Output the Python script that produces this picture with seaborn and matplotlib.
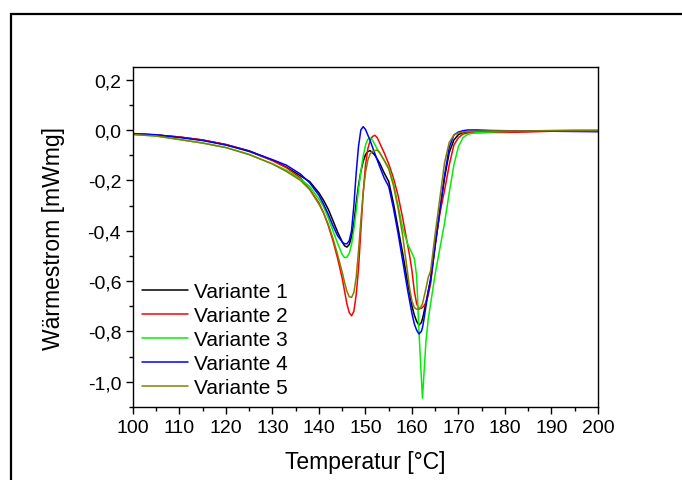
import numpy as np
import pandas as pd
import seaborn as sns
import matplotlib.pyplot as plt
from matplotlib.patches import Rectangle
from matplotlib.ticker import MultipleLocator, FuncFormatter

# DSC curves
temperatur = [100, 105, 110, 115, 120, 125, 130, 133, 136, 138, 140, 141, 142, 143, 144,
              145, 145.5, 146, 146.5, 147, 147.5, 148, 148.5, 149, 149.5, 150, 150.5,
              151, 151.5, 152, 152.5, 153, 154, 155, 156, 157, 158, 159, 159.5, 160,
              160.5, 161, 161.5, 162, 162.25, 162.5, 163, 163.5, 164, 165, 166, 167,
              168, 169, 170, 171, 172, 174, 177, 180, 185, 190, 195, 200]

variante_1 = [-0.015, -0.020, -0.028, -0.040, -0.058, -0.083, -0.120, -0.148, -0.182, -0.205,
              -0.250, -0.280, -0.315, -0.360, -0.405, -0.445, -0.460, -0.465, -0.455, -0.425,
              -0.370, -0.290, -0.220, -0.165, -0.125, -0.098, -0.086, -0.082, -0.090, -0.100,
              -0.115, -0.130, -0.170, -0.205, -0.290, -0.390, -0.490, -0.600, -0.650, -0.700,
              -0.735, -0.760, -0.775, -0.765, -0.750, -0.730, -0.685, -0.640, -0.590, -0.450,
              -0.320, -0.190, -0.090, -0.040, -0.018, -0.010, -0.007, -0.005, -0.005, -0.005,
              -0.005, -0.005, -0.005, -0.005]

variante_2 = [-0.014, -0.020, -0.028, -0.040, -0.058, -0.085, -0.122, -0.150, -0.190, -0.235,
              -0.290, -0.330, -0.380, -0.440, -0.510, -0.590, -0.640, -0.690, -0.725, -0.738,
              -0.720, -0.655, -0.550, -0.400, -0.250, -0.140, -0.075, -0.042, -0.026, -0.021,
              -0.030, -0.050, -0.090, -0.135, -0.190, -0.260, -0.350, -0.450, -0.500, -0.560,
              -0.640, -0.690, -0.710, -0.708, -0.705, -0.700, -0.685, -0.655, -0.610, -0.450,
              -0.330, -0.240, -0.140, -0.060, -0.030, -0.016, -0.012, -0.011, -0.010, -0.010,
              -0.008, -0.005, -0.004, -0.004]

variante_3 = [-0.018, -0.024, -0.038, -0.052, -0.070, -0.097, -0.135, -0.160, -0.195, -0.224,
              -0.275, -0.305, -0.350, -0.400, -0.450, -0.495, -0.507, -0.505, -0.490, -0.455,
              -0.395, -0.320, -0.235, -0.165, -0.105, -0.060, -0.037, -0.032, -0.040, -0.058,
              -0.075, -0.090, -0.120, -0.150, -0.210, -0.300, -0.390, -0.450, -0.470, -0.490,
              -0.510, -0.580, -0.800, -0.980, -1.065, -0.990, -0.840, -0.750, -0.690, -0.570,
              -0.470, -0.370, -0.250, -0.140, -0.065, -0.030, -0.017, -0.010, -0.008, -0.006,
              -0.004, -0.002, 0.000, 0.000]

variante_4 = [-0.015, -0.019, -0.030, -0.042, -0.060, -0.085, -0.118, -0.140, -0.175, -0.210,
              -0.260, -0.295, -0.335, -0.380, -0.420, -0.445, -0.452, -0.452, -0.440, -0.400,
              -0.300, -0.170, -0.065, 0.000, 0.013, 0.002, -0.020, -0.042, -0.068, -0.093,
              -0.118, -0.143, -0.190, -0.225, -0.310, -0.410, -0.520, -0.630, -0.680, -0.730,
              -0.770, -0.795, -0.810, -0.800, -0.785, -0.760, -0.700, -0.640, -0.600, -0.460,
              -0.320, -0.180, -0.070, -0.020, -0.008, -0.003, 0.000, 0.000, -0.002, -0.003,
              -0.004, -0.005, -0.006, -0.007]

variante_5 = [-0.018, -0.024, -0.038, -0.052, -0.070, -0.098, -0.135, -0.165, -0.200, -0.237,
              -0.295, -0.330, -0.375, -0.430, -0.495, -0.565, -0.605, -0.640, -0.662, -0.665,
              -0.645, -0.585, -0.480, -0.360, -0.250, -0.170, -0.120, -0.095, -0.085, -0.082,
              -0.080, -0.088, -0.120, -0.155, -0.220, -0.310, -0.420, -0.560, -0.630, -0.680,
              -0.705, -0.712, -0.712, -0.700, -0.690, -0.670, -0.630, -0.585, -0.560, -0.410,
              -0.270, -0.130, -0.050, -0.020, -0.012, -0.008, -0.006, -0.005, -0.004, -0.004,
              -0.004, -0.003, -0.003, -0.003]

namen = ["Variante 1", "Variante 2", "Variante 3", "Variante 4", "Variante 5"]
farben = ["#000000", "#ff0000", "#00f000", "#0000ff", "#808000"]

df = pd.concat([
    pd.DataFrame({"Temperatur": temperatur, "Waermestrom": werte, "Variante": name})
    for name, werte in zip(namen, [variante_1, variante_2, variante_3, variante_4, variante_5])
])

sns.set_style("ticks")
plt.rcParams['font.family'] = ['Liberation Sans', 'DejaVu Sans']
plt.rcParams['text.color'] = 'black'
plt.rcParams['axes.labelcolor'] = 'black'

fig = plt.figure(figsize=(6.82, 4.81), dpi=100)
ax = fig.add_axes([133 / 682, 1 - 408 / 481, 465 / 682, 340 / 481])

sns.lineplot(data=df, x="Temperatur", y="Waermestrom", hue="Variante",
             palette=dict(zip(namen, farben)), linewidth=1.1, ax=ax, sort=False)

ax.set_xlim(100, 200)
ax.set_ylim(-1.1, 0.25)
ax.xaxis.set_major_locator(MultipleLocator(10))
ax.xaxis.set_minor_locator(MultipleLocator(5))
ax.yaxis.set_major_locator(MultipleLocator(0.2))
ax.yaxis.set_minor_locator(MultipleLocator(0.1))
ax.yaxis.set_major_formatter(FuncFormatter(lambda v, p: f"{v:.1f}".replace(".", ",").replace("-0,0", "0,0")))
ax.tick_params(which="major", direction="out", length=5, width=1, labelsize=14, colors="black")
ax.tick_params(which="minor", direction="out", length=3, width=1, colors="black")
for s in ax.spines.values():
    s.set_linewidth(1.0)
    s.set_color("black")

ax.set_xlabel("Temperatur [°C]", fontsize=16.5, labelpad=10, color="black")
ax.set_ylabel("Wärmestrom [mWmg]", fontsize=16.5, labelpad=16, color="black")

leg = ax.legend(loc="lower left", bbox_to_anchor=(0.02, 0.03), frameon=False, fontsize=15,
                handlelength=2.2, handletextpad=0.3, labelspacing=0.24, borderpad=0, borderaxespad=0)
for t in leg.get_texts():
    t.set_color("black")

# outer frame of the original figure
fig.patches.append(Rectangle((11 / 682, -0.1), 1.2, 1.1 - 15 / 481,
                             transform=fig.transFigure, fill=False, edgecolor="black", linewidth=1.6))

plt.savefig("out.png", dpi=100)
plt.close()
